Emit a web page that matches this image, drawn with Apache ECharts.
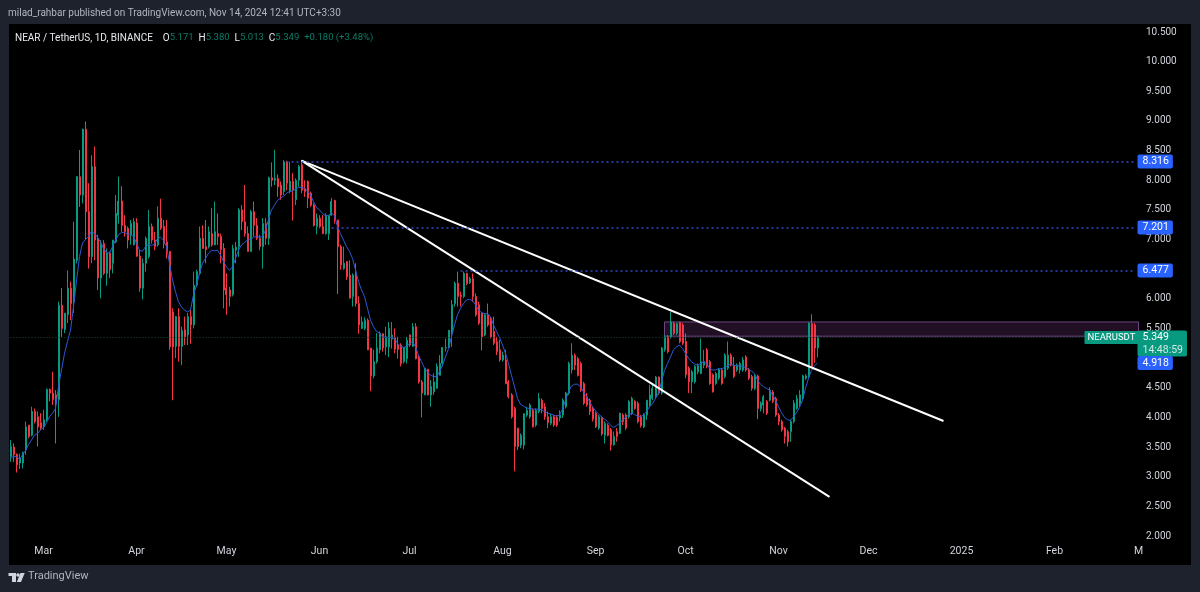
<!DOCTYPE html>
<html>
	<head>
		<meta charset="UTF-8">
		<title>NEARUSDT</title>
		<script src="https://cdn.jsdelivr.net/npm/echarts@6/dist/echarts.min.js"></script>
		<style>
			html, body { margin: 0; padding: 0; background: #1e222d; }
			#frame { position: absolute; left: 9px; top: 24px; width: 1182px; height: 541px; background: #000; }
			#main { position: absolute; left: 0; top: 0; width: 1200px; height: 592px; }
		</style>
	</head>
	<body>
		<div id="frame"></div>
		<div id="main"></div>
	</body>
	<script type="application/javascript">
		var firstDay = '2024-02-19';
		var dayCount = 378;

		var tickDates = ['2024-03-01', '2024-04-01', '2024-05-01', '2024-06-01', '2024-07-01', '2024-08-01', '2024-09-01', '2024-10-01', '2024-11-01', '2024-12-01', '2025-01-01', '2025-02-01', '2025-03-01'];
		var tickNames = ['Mar', 'Apr', 'May', 'Jun', 'Jul', 'Aug', 'Sep', 'Oct', 'Nov', 'Dec', '2025', 'Feb', 'M'];

		var opens = [
			3.34,3.50,3.38,3.23,3.23,3.45,3.87,3.70,4.10,4.01,
			3.91,3.84,3.96,4.47,4.41,4.38,4.30,5.89,5.48,5.73,
			6.18,5.95,6.65,8.06,7.75,8.86,7.47,6.71,8.23,7.02,
			6.35,6.93,6.43,6.77,6.60,6.96,7.41,7.65,7.24,7.19,
			7.08,6.91,7.28,6.72,6.18,6.60,6.71,7.22,6.99,6.91,
			7.36,7.22,6.96,6.80,5.78,5.20,5.70,5.20,5.48,5.39,
			5.70,5.56,6.23,6.43,7.02,6.88,6.88,7.10,6.91,7.10,
			7.05,6.85,6.18,6.15,6.07,6.82,6.88,7.50,7.30,7.10,
			6.80,7.47,7.24,7.02,6.88,7.27,7.02,8.04,8.00,8.03,
			7.92,7.81,8.31,7.81,7.98,7.67,8.00,8.26,7.86,7.98,
			7.78,7.58,7.22,7.36,7.22,7.10,7.10,7.41,7.66,7.33,
			6.88,6.51,6.63,6.40,6.04,6.40,5.92,5.50,5.50,5.64,
			5.17,4.70,4.94,5.14,5.41,5.19,5.19,5.32,5.35,5.22,
			5.22,4.94,4.99,5.39,5.20,5.53,5.02,4.60,4.38,4.81,
			4.38,4.43,4.49,4.71,4.91,5.17,5.18,5.42,5.92,6.26,
			6.06,6.04,6.43,6.27,6.34,6.04,5.90,5.76,5.39,5.73,
			5.67,5.45,5.28,5.14,4.97,4.97,4.60,4.38,4.15,3.82,
			3.53,3.53,4.04,4.01,4.12,3.87,4.10,4.29,4.18,4.01,
			3.90,4.01,4.00,3.99,4.04,4.18,4.41,4.80,5.05,4.99,
			4.91,4.57,4.35,4.29,4.15,4.07,3.82,4.00,3.70,3.87,
			3.79,3.54,3.76,3.73,4.04,4.04,4.01,4.07,4.27,4.24,
			4.01,3.84,4.04,4.21,4.32,4.35,4.68,4.41,5.14,5.36,
			5.36,5.59,5.42,5.60,5.56,5.28,4.83,4.60,4.60,4.77,
			4.74,4.88,5.14,4.94,4.72,4.57,4.66,4.80,4.69,4.83,
			5.05,4.88,4.80,4.80,4.80,5.02,4.80,4.69,4.49,4.70,
			4.15,4.21,4.27,4.29,4.43,4.32,4.04,3.93,3.82,3.76,
			3.76,3.93,4.15,4.24,4.32,4.66,4.69,5.58,5.56,5.171
		];
		var closes = [
			3.51,3.37,3.20,3.31,3.41,3.84,3.68,4.10,3.93,3.84,
			3.82,3.96,4.47,4.41,4.30,4.23,5.89,5.50,5.76,6.18,
			5.92,6.67,8.06,7.75,8.86,7.47,6.71,8.23,6.99,6.35,
			6.93,6.43,6.77,6.49,6.99,7.44,7.65,7.24,7.13,6.99,
			7.27,7.30,6.72,6.18,6.60,7.02,7.22,6.99,6.88,7.36,
			7.19,6.93,6.80,5.19,5.19,5.70,5.20,5.47,5.36,5.70,
			5.56,6.23,6.46,7.02,6.85,6.83,7.13,6.91,7.13,7.05,
			6.83,6.15,6.07,6.04,6.85,6.87,7.50,7.30,7.10,6.80,
			7.47,7.24,7.02,6.88,7.27,7.02,8.04,8.00,8.03,7.89,
			7.75,8.31,7.95,7.98,7.83,8.00,8.23,7.83,7.81,7.70,
			7.58,7.24,7.36,7.22,7.10,7.41,7.40,7.64,7.33,6.88,
			6.57,6.60,6.37,6.01,6.40,5.92,5.56,5.61,5.64,5.14,
			4.70,4.94,5.17,5.42,5.17,5.36,5.50,5.39,5.15,5.15,
			4.91,5.18,5.30,5.22,5.53,4.99,4.60,4.41,4.83,4.38,
			4.52,4.60,4.86,4.91,5.18,5.18,5.47,5.90,6.26,6.04,
			6.04,6.43,6.26,6.34,6.04,5.73,5.59,5.36,5.73,5.56,
			5.36,5.25,5.11,4.97,5.05,4.57,4.35,4.01,3.51,3.51,
			3.70,4.06,4.12,4.21,3.84,4.12,4.32,4.15,4.01,3.91,
			4.01,3.87,3.87,4.04,4.29,4.41,4.91,5.05,4.88,4.71,
			4.46,4.24,4.21,4.10,3.97,3.84,4.01,3.72,3.90,3.70,
			3.54,3.68,3.68,4.07,3.93,3.82,4.27,4.32,4.15,3.93,
			3.86,4.04,4.29,4.38,4.49,4.68,4.41,5.17,5.36,5.11,
			5.61,5.42,5.58,5.28,5.25,4.72,4.60,4.77,4.86,4.87,
			4.94,4.94,4.86,4.57,4.43,4.74,4.81,4.57,5.05,5.05,
			4.88,4.69,4.88,4.91,4.97,4.80,4.66,4.49,4.70,4.15,
			4.24,4.35,4.07,4.46,4.27,4.04,3.93,3.79,3.68,3.59,
			3.93,4.24,4.32,4.38,4.70,4.70,5.59,4.86,5.169,5.349
		];
		var highs = [
			3.62,3.56,3.39,3.39,3.42,3.93,3.87,4.18,4.15,4.10,
			4.07,4.13,4.49,4.49,4.77,4.46,5.95,6.18,5.76,6.48,
			6.29,7.30,8.07,8.51,8.87,8.99,7.95,8.42,8.57,7.08,
			6.99,6.99,6.85,6.80,6.99,7.75,8.06,7.90,7.41,7.22,
			7.33,7.36,7.36,6.82,6.68,7.05,7.50,7.27,7.13,7.56,
			7.69,7.33,7.33,6.80,5.84,5.71,5.84,5.53,5.70,5.76,
			5.81,6.46,6.49,7.22,7.24,7.33,7.22,7.53,7.64,7.44,
			7.10,6.94,6.43,6.20,6.91,6.96,7.53,7.58,7.92,7.22,
			7.50,7.64,7.36,7.08,7.36,7.36,8.06,8.30,8.51,8.10,
			7.98,8.34,8.33,8.31,8.12,8.03,8.26,8.34,8.00,8.00,
			7.81,7.61,7.44,7.41,7.41,7.44,7.41,7.70,7.67,7.33,
			6.91,6.88,6.63,6.65,6.43,6.60,6.04,5.70,5.69,5.67,
			5.17,5.14,5.42,5.45,5.42,5.53,5.61,5.61,5.50,5.36,
			5.25,5.19,5.36,5.40,5.59,5.59,5.05,4.63,4.83,4.82,
			4.63,4.74,4.91,5.05,5.18,5.33,5.47,5.98,6.29,6.46,
			6.12,6.46,6.44,6.37,6.43,6.09,5.95,5.76,5.76,5.92,
			5.70,5.70,5.36,5.31,5.11,5.14,4.63,4.41,4.18,3.82,
			3.73,4.07,4.18,4.24,4.15,4.15,4.41,4.32,4.24,4.10,
			4.06,4.04,4.04,4.12,4.32,4.43,4.94,5.25,5.08,5.02,
			4.94,4.60,4.41,4.32,4.18,4.10,4.04,4.02,3.93,3.90,
			3.82,3.76,3.82,4.08,4.07,4.07,4.29,4.35,4.29,4.27,
			4.04,4.07,4.29,4.55,4.55,4.70,4.69,5.19,5.39,5.39,
			5.78,5.61,5.60,5.61,5.59,5.42,4.86,4.80,4.88,4.91,
			5.33,5.14,5.17,4.97,4.74,4.77,4.83,4.83,5.08,5.28,
			5.08,5.02,4.91,4.94,5.02,5.05,4.83,4.72,4.73,4.72,
			4.27,4.38,4.29,4.51,4.46,4.35,4.07,3.96,3.84,3.79,
			3.96,4.29,4.38,4.46,4.72,4.73,5.60,5.74,5.59,5.38
		];
		var lows = [
			3.25,3.25,3.07,3.13,3.14,3.37,3.65,3.68,3.90,3.51,
			3.79,3.79,3.93,4.27,4.21,3.56,4.01,5.36,5.42,5.59,
			5.64,5.76,6.60,7.55,7.61,6.99,6.51,6.60,6.65,6.15,
			6.01,6.40,6.22,6.35,6.43,6.94,7.27,7.13,7.05,6.85,
			6.91,6.90,6.71,6.12,5.99,6.46,6.68,6.93,6.82,6.88,
			7.16,6.85,6.68,5.14,4.29,5.00,4.94,4.88,5.22,5.22,
			5.24,5.50,6.20,6.40,6.85,6.60,6.85,6.88,6.91,6.91,
			6.60,5.84,5.73,5.87,6.04,6.60,6.71,7.16,7.05,6.80,
			6.80,7.05,6.99,6.82,6.51,6.91,6.91,7.89,7.92,7.72,
			7.67,7.75,7.83,7.78,7.32,7.58,7.89,7.78,7.72,7.53,
			7.55,7.22,7.09,7.19,7.09,7.08,6.99,7.40,7.27,6.08,
			6.49,6.49,6.32,6.01,5.87,5.87,5.41,5.49,5.47,5.14,
			4.44,4.66,4.91,5.08,5.11,5.05,5.02,5.16,5.08,4.99,
			4.86,4.91,4.91,5.19,5.19,4.98,4.57,4.00,4.38,4.37,
			4.18,4.38,4.49,4.71,4.86,5.11,5.17,5.19,5.87,5.87,
			5.87,6.01,6.23,6.25,5.95,5.70,5.56,5.13,5.37,5.53,
			5.33,5.22,5.05,4.94,4.94,4.56,4.32,3.98,3.09,3.45,
			3.48,3.46,4.01,3.98,3.83,3.84,4.07,4.07,3.96,3.82,
			3.87,3.84,3.84,3.93,3.99,4.15,4.38,4.74,4.80,4.69,
			4.43,4.21,4.18,4.04,3.93,3.82,3.79,3.69,3.56,3.68,
			3.44,3.52,3.59,3.72,3.87,3.79,3.98,4.04,4.13,3.90,
			3.83,3.82,3.96,4.18,4.29,4.32,4.38,4.38,5.11,5.08,
			5.33,5.39,5.39,5.25,5.22,4.66,4.41,4.41,4.57,4.73,
			4.73,4.83,4.83,4.55,4.42,4.55,4.63,4.55,4.66,4.80,
			4.86,4.66,4.77,4.74,4.77,4.77,4.63,4.45,4.46,3.97,
			4.10,4.07,4.04,4.27,4.24,4.01,3.87,3.76,3.56,3.51,
			3.59,3.90,4.13,4.18,4.29,4.63,4.66,4.83,4.92,5.013
		];
		var maValues = [
			3.31,3.34,3.34,3.29,3.37,3.44,3.54,3.62,3.70,3.73,
			3.79,3.83,3.91,4.01,4.07,4.15,4.52,4.80,5.08,5.28,
			5.47,5.87,6.30,6.71,6.94,7.00,7.05,7.14,7.10,7.04,
			6.96,6.85,6.78,6.77,6.88,6.99,7.08,7.12,7.12,7.09,
			7.09,7.05,6.94,6.82,6.80,6.88,6.92,6.90,6.92,7.02,
			7.04,6.99,6.88,6.60,6.32,6.12,5.95,5.86,5.81,5.78,
			5.81,6.07,6.23,6.43,6.60,6.68,6.77,6.82,6.81,6.82,
			6.74,6.63,6.54,6.48,6.54,6.68,6.82,6.91,6.95,6.99,
			7.00,7.04,7.05,7.04,7.05,7.16,7.34,7.50,7.58,7.66,
			7.70,7.73,7.78,7.81,7.82,7.85,7.88,7.88,7.86,7.82,
			7.75,7.64,7.54,7.50,7.44,7.40,7.41,7.45,7.40,7.22,
			7.10,6.99,6.88,6.80,6.68,6.49,6.29,6.15,6.04,5.84,
			5.64,5.53,5.45,5.42,5.37,5.35,5.35,5.35,5.33,5.25,
			5.20,5.18,5.20,5.24,5.28,5.19,5.05,4.94,4.83,4.77,
			4.71,4.69,4.69,4.77,4.88,5.02,5.16,5.36,5.56,5.73,
			5.84,5.92,5.98,5.99,5.97,5.90,5.81,5.77,5.75,5.75,
			5.70,5.56,5.45,5.35,5.22,5.08,4.91,4.71,4.52,4.32,
			4.22,4.19,4.16,4.15,4.14,4.14,4.14,4.13,4.10,4.07,
			4.06,4.04,4.02,4.04,4.14,4.29,4.43,4.53,4.56,4.56,
			4.52,4.43,4.35,4.27,4.18,4.11,4.06,4.01,3.97,3.93,
			3.87,3.83,3.86,3.90,3.95,4.00,4.04,4.07,4.05,4.02,
			4.01,4.04,4.10,4.18,4.23,4.32,4.41,4.60,4.79,4.91,
			5.02,5.14,5.19,5.22,5.16,5.08,5.00,4.94,4.90,4.88,
			4.91,4.94,4.91,4.83,4.80,4.80,4.82,4.82,4.84,4.87,
			4.90,4.88,4.87,4.87,4.86,4.84,4.81,4.78,4.74,4.63,
			4.56,4.52,4.49,4.46,4.38,4.29,4.18,4.08,4.00,3.96,
			3.95,4.01,4.08,4.17,4.29,4.49,4.66,4.79,4.87,4.918
		];

		// trend lines drawn on the chart: [date, price] at both ends
		var trendUpper = [['2024-05-26', 8.33], ['2024-12-26', 3.94]];
		var trendLower = [['2024-05-26', 8.33], ['2024-11-18', 2.66]];

		// horizontal levels: price and the day they start from
		var levelPrices = [8.316, 7.201, 6.477];
		var levelStarts = ['2024-05-21', '2024-06-05', '2024-07-18'];

		var zonePrices = [5.37, 5.61];
		var zoneDates = ['2024-09-24', '2025-03-01'];

		var lastPrice = 5.349;
		var maLast = 4.918;
		var countdown = '14:48:59';

		var categories = [];
		var start = Date.parse(firstDay + 'T00:00:00Z');
		for(var d = 0; d < dayCount; d++) {
			categories.push(new Date(start + d * 86400000).toISOString().substring(0, 10));
		}

		var candles = [];
		for(var i = 0; i < opens.length; i++) {
			candles.push([opens[i], closes[i], lows[i], highs[i]]);
		}

		var labelFont = 'Roboto';
		var lineEnd = categories[375];
		var tagEnd = categories[358];

		var lines = [];
		[trendUpper, trendLower].forEach(function(t) {
			lines.push([{
				coord: t[0],
				lineStyle: { color: '#ffffff', width: 2, type: 'solid' },
				label: { show: false }
			}, { coord: t[1] }]);
		});
		levelPrices.forEach(function(p, n) {
			lines.push([{
				coord: [levelStarts[n], p],
				lineStyle: { color: '#3348c8', width: 1.5, type: [2, 3] },
				label: {
					show: true, position: 'end', distance: 2,
					formatter: p.toFixed(3), color: '#ffffff', backgroundColor: '#2962ff',
					fontFamily: labelFont, fontSize: 10.5, padding: [2, 4, 1, 5], borderRadius: 2
				}
			}, { coord: [lineEnd, p] }]);
		});
		// dim last price line with the symbol tag on its end
		lines.push([{
			coord: [categories[0], lastPrice],
			lineStyle: { color: '#1f4a3d', width: 1, type: [1, 2] },
			label: {
				show: true, position: 'end', distance: 0,
				formatter: 'NEARUSDT', color: '#ffffff', backgroundColor: '#089981',
				fontFamily: labelFont, fontSize: 9.5, padding: [2, 3, 1, 3], borderRadius: 1
			}
		}, { coord: [tagEnd, lastPrice] }]);
		lines.push([{
			coord: [tagEnd, lastPrice],
			lineStyle: { color: 'transparent', width: 0 },
			label: {
				show: true, position: 'end', distance: 2, offset: [0, 6],
				formatter: '{a|' + lastPrice.toFixed(3) + '}\n{b|' + countdown + '}',
				backgroundColor: '#089981', padding: [0, 4, 0, 5], borderRadius: 2, align: 'left',
				rich: {
					a: { color: '#ffffff', fontFamily: labelFont, fontSize: 10.5, lineHeight: 13 },
					b: { color: '#cfe9e3', fontFamily: labelFont, fontSize: 10.5, lineHeight: 13 }
				}
			}
		}, { coord: [lineEnd, lastPrice] }]);
		lines.push([{
			coord: [tagEnd, maLast],
			lineStyle: { color: 'transparent', width: 0 },
			label: {
				show: true, position: 'end', distance: 2,
				formatter: maLast.toFixed(3), color: '#ffffff', backgroundColor: '#2962ff',
				fontFamily: labelFont, fontSize: 10.5, padding: [2, 4, 1, 5], borderRadius: 2
			}
		}, { coord: [lineEnd, maLast] }]);

		var green = '#089981';
		var red = '#f23645';

		var myChart = echarts.init(document.getElementById('main'), null, { renderer: 'canvas' });
		myChart.setOption({
			animation: false,
			backgroundColor: 'transparent',
			title: [{
				text: 'milad_rahbar published on TradingView.com, Nov 14, 2024 12:41 UTC+3:30',
				left: 3, top: 3,
				textStyle: { color: '#b2b5be', fontFamily: labelFont, fontSize: 10, fontWeight: 'normal' }
			}, {
				text: '{w|NEAR / TetherUS, 1D, BINANCE}  {w|O}{g|5.171} {w|H}{g|5.380} {w|L}{g|5.013} {w|C}{g|5.349} {g|+0.180 (+3.48%)}',
				left: 10, top: 24,
				textStyle: {
					rich: {
						w: { color: '#e6e8ee', fontFamily: labelFont, fontSize: 10, fontWeight: 'normal' },
						g: { color: '#0b7d68', fontFamily: labelFont, fontSize: 9.5, fontWeight: 'normal' }
					}
				}
			}, {
				text: 'TradingView',
				left: 23, top: 566,
				textStyle: { color: '#b2b5be', fontFamily: labelFont, fontSize: 11, fontWeight: 'normal' }
			}],
			graphic: [{
				type: 'polygon',
				shape: { points: [[8.5, 573], [16, 573], [16, 582], [12, 582], [12, 576], [8.5, 576]] },
				style: { fill: '#d1d4dc' }
			}, {
				type: 'circle',
				shape: { cx: 18, cy: 575, r: 1.8 },
				style: { fill: '#d1d4dc' }
			}, {
				type: 'polygon',
				shape: { points: [[24.7, 573], [21, 582], [16.8, 582], [20.5, 573]] },
				style: { fill: '#d1d4dc' }
			}],
			grid: { left: 9, width: 1134, top: 32, height: 504 },
			xAxis: {
				type: 'category',
				data: categories,
				boundaryGap: true,
				axisLine: { show: false },
				axisTick: { show: false },
				splitLine: { show: false },
				axisLabel: {
					margin: 10,
					color: '#d1d4dc',
					fontFamily: labelFont,
					fontSize: 10.5,
					hideOverlap: false,
					interval: function(index, value) {
						return tickDates.indexOf(value) >= 0;
					},
					formatter: function(value) {
						return tickNames[tickDates.indexOf(value)];
					}
				}
			},
			yAxis: {
				type: 'value',
				position: 'right',
				min: 2,
				max: 10.5,
				interval: 0.5,
				axisLine: { show: false },
				axisTick: { show: false },
				splitLine: { show: false },
				axisLabel: {
					margin: 3,
					color: '#d1d4dc',
					fontFamily: labelFont,
					fontSize: 10,
					formatter: function(v) {
						return v.toFixed(3);
					}
				}
			},
			series: [{
				type: 'candlestick',
				name: 'NEARUSDT',
				data: candles,
				barWidth: 1.5,
				itemStyle: {
					color: green,
					color0: red,
					borderColor: green,
					borderColor0: red,
					borderWidth: 1
				},
				markArea: {
					silent: true,
					itemStyle: { color: 'rgba(126,60,140,0.26)', borderColor: '#6d4580', borderWidth: 1 },
					data: [[{ coord: [zoneDates[0], zonePrices[1]] }, { coord: [zoneDates[1], zonePrices[0]] }]]
				},
				markLine: {
					silent: true,
					symbol: ['none', 'none'],
					animation: false,
					data: lines
				}
			}, {
				type: 'line',
				name: 'MA',
				data: maValues,
				showSymbol: false,
				symbol: 'none',
				lineStyle: { color: '#2a5bd7', width: 1 },
				z: 3
			}]
		});
	</script>
</html>
